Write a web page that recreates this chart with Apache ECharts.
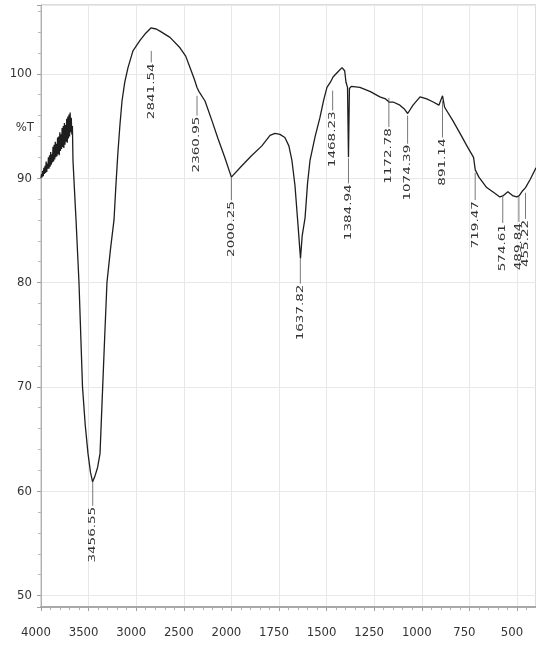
<!DOCTYPE html>
<html>
<head>
<meta charset="utf-8">
<script src="https://cdn.jsdelivr.net/npm/echarts@6/dist/echarts.min.js"></script>
<style>
html,body{margin:0;padding:0;background:#fff;}
#chart{width:536px;height:651px;}
</style>
</head>
<body>
<div id="chart"></div>
<script>
// Spectrum (wavenumber cm-1, %T)
const wavenumbers = [4000,3994,3988,3982,3976,3970,3964,3958,3952,3946,3940,3934,3928,3922,3916,3910,3904,3898,3892,3886,3880,3874,3868,3862,3856,3850,3844,3838,3832,3826,3820,3814,3808,3802,3796,3790,3784,3778,3772,3766,3760,3754,3748,3742,3736,3730,3724,3718,3712,3706,3700,3694,3688,3682,3676,3670,
  3664,3643,3632,3601,3564,3535,3506,3480,3458,3435,3405,3380,3352,3330,3307,3270,3233,3215,3200,3191,3170,3149,3120,3086,3034,2960,2900,2845,2790,2750,2645,2540,2480,2435,2390,2361,2340,2277,2200,2141,2070,2000,1950,1897,1840,1797,1771,1745,1719,1698,1682,1666,1650,1637,1628,1613,1600,1587,1560,1535,1515,1498,1480,1466,1440,1419,1405,1398,1390,1385,1380,1370,1325,1270,1220,1190,1172,1150,1115,1090,1074,1046,1009,974,940,910,891,880,836,799,760,728,719,700,659,620,590,574,548,520,502,489,470,455,430,400];
const transmittance = [90.0,90.4,90.1,90.7,90.2,91.0,90.4,91.2,90.5,91.6,90.6,91.4,90.9,92.0,90.9,92.2,91.1,92.5,91.3,92.3,91.5,93.0,91.6,93.2,91.8,93.5,92.0,93.3,92.1,93.9,92.3,94.0,92.2,94.4,92.6,94.2,92.8,94.8,93.0,95.0,92.9,95.3,93.2,95.1,93.5,95.7,93.4,95.9,93.8,96.1,94.0,96.3,94.4,95.8,94.2,95.0,
  91.7,87.9,86.0,80.0,70.0,66.3,63.6,61.8,60.9,61.4,62.3,63.6,70.0,75.0,80.0,83.2,86.0,89.0,91.3,92.6,95.2,97.4,99.2,100.6,102.2,103.2,103.9,104.4,104.3,104.1,103.5,102.5,101.7,100.6,99.5,98.7,98.3,97.4,95.4,93.8,92.0,90.1,91.1,92.1,93.1,94.1,94.3,94.2,93.9,93.1,91.7,89.3,85.5,82.3,84.5,86.2,89.5,91.7,94.0,95.8,97.5,98.7,99.2,99.7,100.2,100.6,100.3,99.2,98.7,92.0,98.6,98.8,98.7,98.3,97.8,97.6,97.3,97.3,97.0,96.6,96.2,97.0,97.8,97.6,97.3,97.0,97.9,96.8,95.5,94.3,93.0,92.0,90.8,90.1,89.1,88.6,88.2,88.3,88.7,88.3,88.2,88.3,88.8,89.1,89.9,91.0];

// Peak labels
const peakLabels = ['3456.55','2841.54','2360.95','2000.25','1637.82','1468.23','1384.94','1172.78','1074.39','891.14','719.47','574.61','489.84','455.22'];
const peakWn = [3456.55,2841.54,2360.95,2000.25,1637.82,1468.23,1384.94,1172.78,1074.39,891.14,719.47,574.61,489.84,455.22];
const peakT = [60.9,102.2,97.9,90.1,82.3,98.4,91.9,97.7,96.0,97.4,90.5,88.2,88.2,88.6];
const labelT = [58.6,101.1,96.0,87.9,79.9,96.5,89.5,94.9,93.3,93.9,87.9,85.7,85.8,86.1];

// Axis ticks
const xTickLabels = ['4000','3500','3000','2500','2000','1750','1500','1250','1000','750','500'];
const yTitle = '%T';

// Piecewise wavenumber axis: 500 cm-1 per division above 2000, 250 below
function toU(w){ return w >= 2000 ? (4000 - w) / 500 : 4 + (2000 - w) / 250; }

const lineData = wavenumbers.map((w,i)=>[toU(w), transmittance[i]]);
const peakData = peakWn.map((w,i)=>[toU(w), peakT[i], labelT[i]]);

const FONT = "'Liberation Sans Narrow','DejaVu Sans Condensed','Liberation Sans',sans-serif";

const chart = echarts.init(document.getElementById('chart'));
chart.setOption({
  animation:false,
  backgroundColor:'#fff',
  grid:{left:41,right:0,top:5,bottom:44,show:true,borderColor:'#b8b8b8',borderWidth:1},
  xAxis:{
    type:'value', min:0, max:toU(400), interval:1,
    axisLine:{show:true,onZero:false,lineStyle:{color:'#a8a8a8',width:2}},
    axisTick:{show:true,length:4,lineStyle:{color:'#a0a0a0'}},
    minorTick:{show:true,splitNumber:5,length:3,lineStyle:{color:'#b0b0b0'}},
    splitLine:{show:true,lineStyle:{color:'#e8e8e8',width:1}},
    axisLabel:{
      margin:19, color:'#333', fontFamily:FONT, fontSize:13,
      showMaxLabel:false,
      padding:[0,10,0,0],
      formatter:function(v){ const i=Math.round(v); return Math.abs(v-i)<1e-6 && xTickLabels[i]!==undefined ? xTickLabels[i] : ''; }
    }
  },
  yAxis:{
    type:'value', min:48.9, max:106.6, splitNumber:6,
    axisLine:{show:true,lineStyle:{color:'#b0b0b0',width:1}},
    axisTick:{show:true,length:4,lineStyle:{color:'#a0a0a0'}},
    minorTick:{show:true,splitNumber:5,length:3,lineStyle:{color:'#b8b8b8'}},
    splitLine:{show:true,lineStyle:{color:'#e8e8e8',width:1}},
    axisLabel:{margin:9,color:'#333',fontFamily:FONT,fontSize:13,showMinLabel:false,showMaxLabel:false}
  },
  graphic:[{type:'text',right:536-34,top:121,style:{text:yTitle,fill:'#333',font:"13px "+FONT}}],
  series:[
    {
      type:'line', data:lineData, showSymbol:false, symbol:'none',
      lineStyle:{color:'#1e1e1e',width:1.3}, z:3
    },
    {
      type:'custom', data:peakData, z:4,
      renderItem:function(params, api){
        const p1 = api.coord([api.value(0), api.value(1)]);
        const p2 = api.coord([api.value(0), api.value(2)]);
        const txt = peakLabels[params.dataIndex];
        return {
          type:'group',
          children:[
            {type:'line', shape:{x1:p1[0],y1:p1[1],x2:p2[0],y2:p2[1]}, style:{stroke:'#555',lineWidth:0.8}},
            {type:'text', x:p2[0], y:p2[1]+1, rotation:Math.PI/2, scaleX:1, scaleY:0.6,
             style:{text:txt, fill:'#333', font:"15px "+FONT, align:'right', verticalAlign:'middle'}}
          ]
        };
      }
    }
  ]
});
</script>
</body>
</html>
